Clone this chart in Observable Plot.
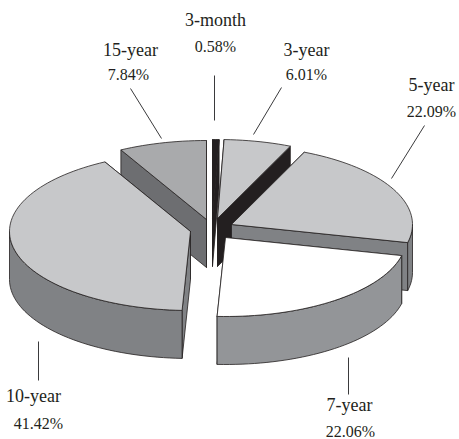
<!DOCTYPE html>
<html>
<head>
<meta charset="utf-8">
<script src="https://cdn.jsdelivr.net/npm/d3@7"></script>
<script src="https://cdn.jsdelivr.net/npm/@observablehq/plot@0.6"></script>
<style>html,body{margin:0;padding:0;background:#fff}svg{display:block}</style>
</head>
<body>
<div id="chart"></div>
<script>
// Data, counter-clockwise from 12 o'clock
const categories = ["15-year", "10-year", "7-year", "5-year", "3-year", "3-month"];
const shares = [7.84, 41.42, 22.06, 22.09, 6.01, 0.58];
const shareLabels = ["7.84%", "41.42%", "22.06%", "22.09%", "6.01%", "0.58%"];

// Styling and layout
const topFill  = ["#a9aaac", "#c7c8ca", "#ffffff", "#c7c8ca", "#c7c8ca", "#231f20"];
const sideFill = ["#6d6e71", "#808285", "#939598", "#808285", "#231f20", "#231f20"];
const apexes = [[206,219],[190,231],[225,237],[231,224],[217,218],[212,218]];
const paintOrder = [4, 5, 0, 3, 1, 2];
const leaders = [[[130,88],[161,138]],[[38,341],[38,380]],[[348,357],[348,394]],
                 [[424,125],[391,178]],[[281,87],[253,134]],[[214,75],[214,120]]];
const nameAt = [[130,55],[33,401],[349,410],[431,90],[306,55],[215,25]];
const pctAt  = [[128,79],[38,428],[350,436],[431,116],[306,79],[215,51]];
const rx = 181, ry = 79, depth = 48;

const rad = d => d * Math.PI / 180;
const total = 100;
let cum = 0;
const slices = shares.map((s, i) => {
  const a0 = cum / total * 360; cum += s;
  return {i, a0, a1: cum / total * 360};
});
const pt = (s, a, dy = 0) => {
  const [ax, ay] = apexes[s.i];
  return [ax - rx * Math.sin(rad(a)), ay - ry * Math.cos(rad(a)) + dy];
};
const polys = [];
const addPoly = (pts, fill) => {
  const id = polys.length ? polys[polys.length - 1].id + 1 : 0;
  [...pts, pts[0]].forEach(([x, y]) => polys.push({id, x, y, fill}));
};
for (const k of paintOrder) {
  const s = slices[k];
  const apex = apexes[k];
  const down = ([x, y]) => [x, y + depth];
  const side = sideFill[k];
  const walls = [pt(s, s.a0), pt(s, s.a1)].sort((a, b) => a[1] - b[1]);
  for (const p of walls) addPoly([apex, p, down(p), down(apex)], side);
  const f0 = Math.max(s.a0, 90), f1 = Math.min(s.a1, 270);
  if (f1 > f0) {
    const m = Math.max(2, Math.ceil((f1 - f0) / 2));
    const front = d3.range(m + 1).map(j => pt(s, f0 + (f1 - f0) * j / m));
    addPoly([...front, ...front.slice().reverse().map(down)], side);
  }
  const n = Math.max(2, Math.ceil((s.a1 - s.a0) / 2));
  const top = d3.range(n + 1).map(j => pt(s, s.a0 + (s.a1 - s.a0) * j / n));
  addPoly([apex, ...top], topFill[k]);
}
const links = leaders.map(([a, b]) => ({x1: a[0], y1: a[1], x2: b[0], y2: b[1]}));
const names = categories.map((t, i) => ({t, x: nameAt[i][0], y: nameAt[i][1]}));
const pcts = shareLabels.map((t, i) => ({t, x: pctAt[i][0], y: pctAt[i][1]}));

const chart = Plot.plot({
  width: 459, height: 439,
  margin: 0,
  x: {domain: [0, 459], range: [0, 459], axis: null},
  y: {domain: [0, 439], range: [0, 439], axis: null},
  style: {background: "#fff", fontFamily: "'Liberation Serif', serif"},
  marks: [
    Plot.line(polys, {x: "x", y: "y", z: "id", fill: "fill", stroke: "#231f20", strokeWidth: 0.8, strokeLinejoin: "miter", curve: "linear"}),
    Plot.link(links, {x1: "x1", y1: "y1", x2: "x2", y2: "y2", stroke: "#3a3a3c", strokeWidth: 1}),
    Plot.text(names, {x: "x", y: "y", text: "t", fontSize: 18, fill: "#231f20", lineAnchor: "bottom", dy: 0}),
    Plot.text(pcts, {x: "x", y: "y", text: "t", fontSize: 16, fill: "#231f20", lineAnchor: "bottom", dy: 0})
  ]
});
document.getElementById("chart").append(chart);
</script>
</body>
</html>
